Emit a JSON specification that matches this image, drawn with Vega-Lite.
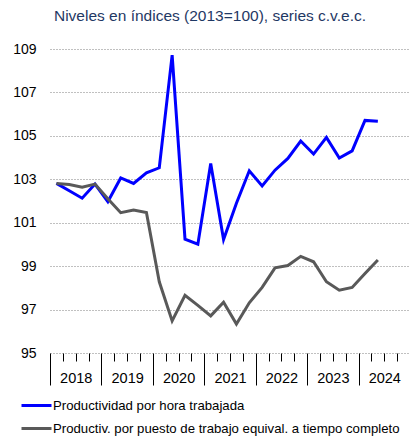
{
  "$schema": "https://vega.github.io/schema/vega-lite/v6.json",
  "autosize": {"type": "none"},
  "padding": {"left": 50, "top": 49, "right": 0, "bottom": 86},
  "width": 360,
  "height": 304,
  "background": "white",
  "config": {
    "view": {"stroke": null},
    "font": "Liberation Sans"
  },
  "title": {
    "text": "Niveles en índices (2013=100), series c.v.e.c.",
    "font": "Liberation Sans",
    "fontSize": 15.5,
    "fontWeight": "normal",
    "color": "#1F3864",
    "anchor": "middle",
    "dx": -20,
    "offset": 18
  },
  "data": {
    "values": [
      {"t": 2018.125, "serie": "Productividad por hora trabajada", "valor": 102.81},
      {"t": 2018.375, "serie": "Productividad por hora trabajada", "valor": 102.47},
      {"t": 2018.625, "serie": "Productividad por hora trabajada", "valor": 102.13},
      {"t": 2018.875, "serie": "Productividad por hora trabajada", "valor": 102.78},
      {"t": 2019.125, "serie": "Productividad por hora trabajada", "valor": 101.97},
      {"t": 2019.375, "serie": "Productividad por hora trabajada", "valor": 103.06},
      {"t": 2019.625, "serie": "Productividad por hora trabajada", "valor": 102.81},
      {"t": 2019.875, "serie": "Productividad por hora trabajada", "valor": 103.30},
      {"t": 2020.125, "serie": "Productividad por hora trabajada", "valor": 103.53},
      {"t": 2020.375, "serie": "Productividad por hora trabajada", "valor": 108.72},
      {"t": 2020.625, "serie": "Productividad por hora trabajada", "valor": 100.24},
      {"t": 2020.875, "serie": "Productividad por hora trabajada", "valor": 100.01},
      {"t": 2021.125, "serie": "Productividad por hora trabajada", "valor": 103.73},
      {"t": 2021.375, "serie": "Productividad por hora trabajada", "valor": 100.23},
      {"t": 2021.625, "serie": "Productividad por hora trabajada", "valor": 101.90},
      {"t": 2021.875, "serie": "Productividad por hora trabajada", "valor": 103.39},
      {"t": 2022.125, "serie": "Productividad por hora trabajada", "valor": 102.69},
      {"t": 2022.375, "serie": "Productividad por hora trabajada", "valor": 103.42},
      {"t": 2022.625, "serie": "Productividad por hora trabajada", "valor": 103.96},
      {"t": 2022.875, "serie": "Productividad por hora trabajada", "valor": 104.76},
      {"t": 2023.125, "serie": "Productividad por hora trabajada", "valor": 104.16},
      {"t": 2023.375, "serie": "Productividad por hora trabajada", "valor": 104.93},
      {"t": 2023.625, "serie": "Productividad por hora trabajada", "valor": 103.98},
      {"t": 2023.875, "serie": "Productividad por hora trabajada", "valor": 104.31},
      {"t": 2024.125, "serie": "Productividad por hora trabajada", "valor": 105.71},
      {"t": 2024.375, "serie": "Productividad por hora trabajada", "valor": 105.67},
      {"t": 2018.125, "serie": "Productiv. por puesto de trabajo equival. a tiempo completo", "valor": 102.81},
      {"t": 2018.375, "serie": "Productiv. por puesto de trabajo equival. a tiempo completo", "valor": 102.76},
      {"t": 2018.625, "serie": "Productiv. por puesto de trabajo equival. a tiempo completo", "valor": 102.64},
      {"t": 2018.875, "serie": "Productiv. por puesto de trabajo equival. a tiempo completo", "valor": 102.78},
      {"t": 2019.125, "serie": "Productiv. por puesto de trabajo equival. a tiempo completo", "valor": 102.10},
      {"t": 2019.375, "serie": "Productiv. por puesto de trabajo equival. a tiempo completo", "valor": 101.46},
      {"t": 2019.625, "serie": "Productiv. por puesto de trabajo equival. a tiempo completo", "valor": 101.58},
      {"t": 2019.875, "serie": "Productiv. por puesto de trabajo equival. a tiempo completo", "valor": 101.47},
      {"t": 2020.125, "serie": "Productiv. por puesto de trabajo equival. a tiempo completo", "valor": 98.28},
      {"t": 2020.375, "serie": "Productiv. por puesto de trabajo equival. a tiempo completo", "valor": 96.48},
      {"t": 2020.625, "serie": "Productiv. por puesto de trabajo equival. a tiempo completo", "valor": 97.66},
      {"t": 2020.875, "serie": "Productiv. por puesto de trabajo equival. a tiempo completo", "valor": 97.19},
      {"t": 2021.125, "serie": "Productiv. por puesto de trabajo equival. a tiempo completo", "valor": 96.71},
      {"t": 2021.375, "serie": "Productiv. por puesto de trabajo equival. a tiempo completo", "valor": 97.34},
      {"t": 2021.625, "serie": "Productiv. por puesto de trabajo equival. a tiempo completo", "valor": 96.33},
      {"t": 2021.875, "serie": "Productiv. por puesto de trabajo equival. a tiempo completo", "valor": 97.31},
      {"t": 2022.125, "serie": "Productiv. por puesto de trabajo equival. a tiempo completo", "valor": 98.02},
      {"t": 2022.375, "serie": "Productiv. por puesto de trabajo equival. a tiempo completo", "valor": 98.92},
      {"t": 2022.625, "serie": "Productiv. por puesto de trabajo equival. a tiempo completo", "valor": 99.03},
      {"t": 2022.875, "serie": "Productiv. por puesto de trabajo equival. a tiempo completo", "valor": 99.45},
      {"t": 2023.125, "serie": "Productiv. por puesto de trabajo equival. a tiempo completo", "valor": 99.20},
      {"t": 2023.375, "serie": "Productiv. por puesto de trabajo equival. a tiempo completo", "valor": 98.28},
      {"t": 2023.625, "serie": "Productiv. por puesto de trabajo equival. a tiempo completo", "valor": 97.89},
      {"t": 2023.875, "serie": "Productiv. por puesto de trabajo equival. a tiempo completo", "valor": 98.02},
      {"t": 2024.125, "serie": "Productiv. por puesto de trabajo equival. a tiempo completo", "valor": 98.66},
      {"t": 2024.375, "serie": "Productiv. por puesto de trabajo equival. a tiempo completo", "valor": 99.28}
    ]
  },
  "mark": {"type": "line", "strokeWidth": 3, "strokeJoin": "miter", "clip": false},
  "encoding": {
    "x": {
      "field": "t",
      "type": "quantitative",
      "title": null,
      "scale": {"domain": [2018, 2025], "nice": false, "zero": false},
      "axis": {
        "values": [2018, 2018.25, 2018.5, 2018.75, 2019, 2019.25, 2019.5, 2019.75, 2020, 2020.25, 2020.5, 2020.75, 2021, 2021.25, 2021.5, 2021.75, 2022, 2022.25, 2022.5, 2022.75, 2023, 2023.25, 2023.5, 2023.75, 2024, 2024.25, 2024.5, 2024.75, 2025],
        "domain": false,
        "grid": false,
        "ticks": true,
        "tickColor": "#000000",
        "tickWidth": 1,
        "tickSize": {"condition": {"test": "datum.value % 1 === 0", "value": 32}, "value": 8},
        "labelExpr": "datum.value % 1 === 0.5 ? format(floor(datum.value), 'd') : ''",
        "labelOverlap": false,
        "labelBound": false,
        "labelFlush": false,
        "labelFont": "Liberation Sans",
        "labelFontSize": 14.5,
        "labelColor": "#000000",
        "labelPadding": 10,
        "labelBaseline": "top"
      }
    },
    "y": {
      "field": "valor",
      "type": "quantitative",
      "title": null,
      "scale": {"domain": [95, 109], "nice": false, "zero": false},
      "axis": {
        "values": [95, 97, 99, 101, 103, 105, 107, 109],
        "domain": false,
        "ticks": false,
        "grid": true,
        "gridColor": "#808080",
        "gridDash": [1, 2],
        "gridWidth": 1,
        "labelFont": "Liberation Sans",
        "labelFontSize": 14,
        "labelColor": "#000000",
        "labelPadding": 14
      }
    },
    "color": {
      "field": "serie",
      "type": "nominal",
      "sort": ["Productividad por hora trabajada", "Productiv. por puesto de trabajo equival. a tiempo completo"],
      "scale": {
        "domain": ["Productividad por hora trabajada", "Productiv. por puesto de trabajo equival. a tiempo completo"],
        "range": ["#0000FF", "#595959"]
      },
      "legend": {
        "title": null,
        "orient": "none",
        "legendX": -30,
        "legendY": 340,
        "direction": "vertical",
        "symbolType": "stroke",
        "symbolSize": 900,
        "symbolStrokeWidth": 3,
        "labelFont": "Liberation Sans",
        "labelFontSize": 13.2,
        "labelColor": "#000000",
        "labelOffset": 0,
        "labelLimit": 400,
        "rowPadding": -8
      }
    }
  }
}
